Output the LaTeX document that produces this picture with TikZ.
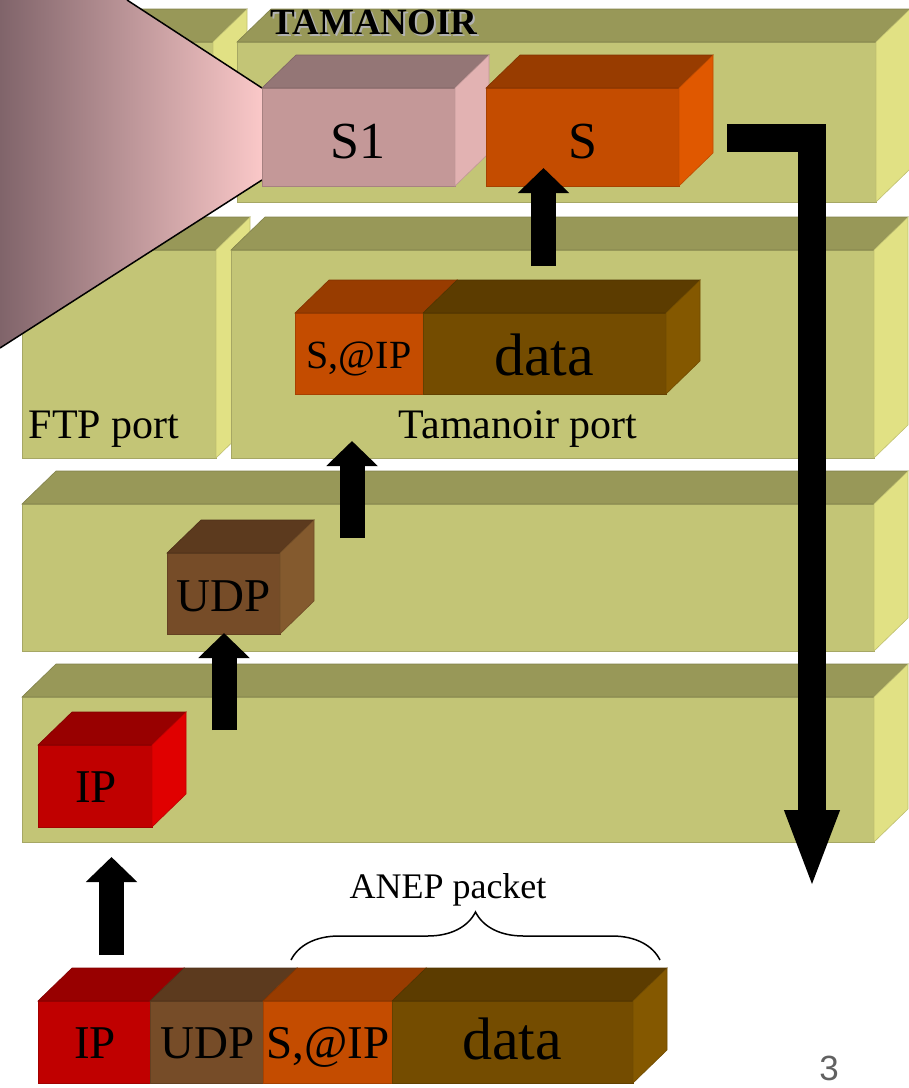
\documentclass[tikz,border=0pt]{standalone}
\usepackage{fontspec}
\setmainfont{Liberation Serif}
\setsansfont{Liberation Sans}
\usepackage{xcolor}
\usetikzlibrary{arrows.meta,decorations.pathreplacing}

\definecolor{slabfront}{RGB}{195,197,118}
\definecolor{slabtop}{RGB}{152,152,88}
\definecolor{slabside}{RGB}{225,225,132}
\definecolor{pinkfront}{RGB}{196,152,152}
\definecolor{pinktop}{RGB}{148,118,118}
\definecolor{pinkside}{RGB}{226,178,178}
\definecolor{orfront}{RGB}{196,76,0}
\definecolor{ortop}{RGB}{152,60,0}
\definecolor{orside}{RGB}{224,88,0}
\definecolor{datfront}{RGB}{116,76,0}
\definecolor{dattop}{RGB}{92,60,0}
\definecolor{datside}{RGB}{132,88,0}
\definecolor{udpfront}{RGB}{118,76,40}
\definecolor{udptop}{RGB}{92,58,30}
\definecolor{udpside}{RGB}{132,90,46}
\definecolor{ipfront}{RGB}{192,0,0}
\definecolor{iptop}{RGB}{152,0,0}
\definecolor{ipside}{RGB}{224,0,0}
\definecolor{coneleft}{RGB}{128,100,106}
\definecolor{coneright}{RGB}{250,200,200}

\tikzset{
  face/.style={line width=0.6pt},
  lbl/.style={anchor=base, font=\fontsize{47}{52}\selectfont},
  upar/.style={line width=25pt, -{Triangle[width=50pt,length=25pt]}},
  bigar/.style={line width=28pt, line join=miter, -{Triangle[width=49pt,length=80pt]}}
}

% box: x0 y0 x1 y1 front top side
\newcommand{\cube}[7]{%
  \filldraw[face, fill=#5, draw=#5!85!black] (#1,#2) rectangle (#3,#4);
  \filldraw[face, fill=#6, draw=#6!85!black] (#1,#2) -- ++(34,-33) -- ++(#3-#1,0) -- (#3,#2) -- cycle;
  \filldraw[face, fill=#7, draw=#7!85!black] (#3,#2) -- ++(34,-33) -- ++(0,#4-#2) -- (#3,#4) -- cycle;}

\begin{document}
\begin{tikzpicture}[x=1pt,y=-1pt]
\useasboundingbox (0,0) rectangle (909,1088);

% layers
\cube{22}{42}{213}{202}{slabfront}{slabtop}{slabside}
\cube{237}{42}{876}{202}{slabfront}{slabtop}{slabside}
\cube{22}{250}{216}{458}{slabfront}{slabtop}{slabside}
\cube{231}{250}{874}{458}{slabfront}{slabtop}{slabside}
\cube{22}{504}{874}{651}{slabfront}{slabtop}{slabside}
\cube{22}{697}{874}{842}{slabfront}{slabtop}{slabside}

% cone
\shade[left color=coneleft, right color=coneright] (0,0) -- (127,0) -- (262,88) -- (262,180) -- (0,348) -- cycle;
\draw[line width=1.5pt] (127,0) -- (262,88);
\draw[line width=1.5pt] (262,180) -- (0,348);

% boxes
\cube{262}{88}{455}{186}{pinkfront}{pinktop}{pinkside}
\cube{486}{88}{679}{186}{orfront}{ortop}{orside}
\cube{295}{313}{423}{394}{orfront}{ortop}{orside}
\cube{423}{313}{666}{394}{datfront}{dattop}{datside}
\cube{167}{553}{280}{634}{udpfront}{udptop}{udpside}
\cube{38}{745}{152}{827}{ipfront}{iptop}{ipside}

% packet
\cube{38}{1001}{150}{1083}{ipfront}{iptop}{ipside}
\cube{150}{1001}{263}{1083}{udpfront}{udptop}{udpside}
\cube{263}{1001}{392}{1083}{orfront}{ortop}{orside}
\cube{392}{1001}{633}{1083}{datfront}{dattop}{datside}

% texts
\node (tamsh) [anchor=base, text=black!30, font=\fontsize{37}{42}\selectfont\bfseries] at (376,36) {TAMANOIR};
\node (tam) [anchor=base, font=\fontsize{37}{42}\selectfont\bfseries] at (374,34) {TAMANOIR};
\node (s1) [lbl, font=\fontsize{52}{58}\selectfont] at (358,158) {S1};
\node (s) [lbl, font=\fontsize{52}{58}\selectfont] at (583,158) {S};
\node (sip) [lbl, font=\fontsize{40}{46}\selectfont] at (359,368) {S,@IP};
\node (data) [lbl, font=\fontsize{60}{66}\selectfont] at (544,375) {data};
\node (ftp) [lbl, font=\fontsize{42}{48}\selectfont] at (104,438) {FTP port};
\node (tport) [lbl, font=\fontsize{42}{48}\selectfont] at (518,438) {Tamanoir port};
\node (udp) [lbl] at (224,611) {UDP};
\node (ip) [lbl] at (96,802) {IP};
\node (anep) [lbl, font=\fontsize{36}{42}\selectfont] at (448,898) {ANEP packet};
\node (pip) [lbl] at (95,1058) {IP};
\node (pudp) [lbl] at (208,1058) {UDP};
\node (psip) [lbl] at (328,1058) {S,@IP};
\node (pdata) [lbl, font=\fontsize{60}{66}\selectfont] at (512,1059) {data};
\node (page) [anchor=base, text=black!62, font=\fontsize{35}{40}\selectfont\sffamily] at (829,1080) {3};

% arrows
\coordinate (v1) at (543.5,266);
\coordinate (v2) at (543.5,168);
\coordinate (v3) at (352,538);
\coordinate (v4) at (352,441);
\coordinate (v5) at (224,730);
\coordinate (v6) at (224,633);
\coordinate (v7) at (111.5,955);
\coordinate (v8) at (111.5,857);
\draw [upar] (v1) -- (v2);
\draw [upar] (v3) -- (v4);
\draw [upar] (v5) -- (v6);
\draw [upar] (v7) -- (v8);

\coordinate (v9) at (727,137.5);
\coordinate (v10) at (812,137.5);
\coordinate (v11) at (812,890);
\draw [bigar] (v9) -- (v10) -- (v11);

% brace
\coordinate (v12) at (291,960);
\coordinate (v13) at (660,960);
\draw [decorate, decoration={brace, amplitude=48pt}, line width=1.5pt] (v12) -- (v13);
\end{tikzpicture}
\end{document}
